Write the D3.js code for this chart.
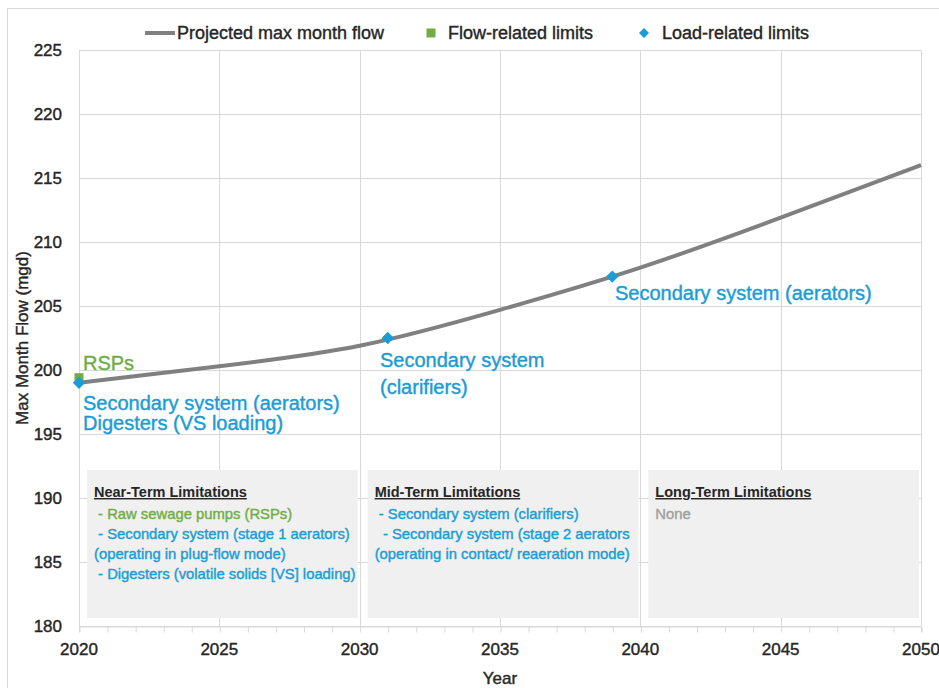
<!DOCTYPE html>
<html>
<head>
<meta charset="utf-8">
<script src="https://cdn.jsdelivr.net/npm/d3@7"></script>
<style>
  body { margin: 0; background: #fff; }
  svg text { font-family: "Liberation Sans", Arial, sans-serif; }
  svg text.heavy { stroke-width: 0.4px; }
</style>
</head>
<body>
<svg width="939" height="688"></svg>
<script>
// projected max month flow
var flowYears = [2020, 2025, 2030, 2035, 2040, 2045, 2050];
var flowValues = [199.0, 200.3, 201.9, 204.7, 208.0, 211.9, 216.0];

// flow-related limits (square markers)
var flowLimitYears = [2020];
var flowLimitValues = [199.4];

// load-related limits (diamond markers)
var loadLimitYears = [2020, 2031, 2039];
var loadLimitValues = [199.0, 202.5, 207.3];

var yTicks = [180, 185, 190, 195, 200, 205, 210, 215, 220, 225];
var xTicks = [2020, 2025, 2030, 2035, 2040, 2045, 2050];

// limitation boxes: [start year, end year]
var termStarts = [2020, 2030, 2040];
var termEnds = [2030, 2040, 2050];
var termTitles = ["Near-Term Limitations", "Mid-Term Limitations", "Long-Term Limitations"];

var blue = "#1b9cd4",
    green = "#70ad47",
    gray = "#808080",
    grid = "#d9d9d9",
    ink = "#262626";

var svg = d3.select("svg");

var x = d3.scaleLinear().domain([2020, 2050]).range([79, 921]);
var y = d3.scaleLinear().domain([180, 225]).range([626, 50]);

// outer chart border
svg.append("rect")
   .attr("x", 7.5).attr("y", 8.5)
   .attr("width", 950).attr("height", 700)
   .attr("fill", "none")
   .attr("stroke", grid);

// gridlines
svg.append("g")
   .selectAll("line")
   .data(yTicks)
   .enter().append("line")
   .attr("x1", x(2020)).attr("x2", x(2050))
   .attr("y1", function(d) { return Math.round(y(d)) + 0.5; })
   .attr("y2", function(d) { return Math.round(y(d)) + 0.5; })
   .attr("stroke", grid);

svg.append("g")
   .selectAll("line")
   .data(xTicks)
   .enter().append("line")
   .attr("x1", function(d) { return Math.round(x(d)) + 0.5; })
   .attr("x2", function(d) { return Math.round(x(d)) + 0.5; })
   .attr("y1", y(225)).attr("y2", y(180))
   .attr("stroke", grid);

// x axis with yearly minor ticks
var xAxis = svg.append("g")
   .attr("transform", "translate(0," + (Math.round(y(180)) + 0.5) + ")")
   .call(d3.axisBottom(x).tickValues(d3.range(2020, 2051)).tickSize(6).tickFormat(""));
xAxis.select(".domain").attr("stroke", grid);
xAxis.selectAll(".tick line").attr("stroke", grid).attr("transform", "translate(0.5,0)");

svg.append("g")
   .selectAll("text")
   .data(xTicks)
   .enter().append("text")
   .attr("class", "heavy")
   .attr("x", function(d) { return x(d); })
   .attr("y", 655)
   .attr("text-anchor", "middle")
   .attr("font-size", 17)
   .attr("fill", ink).attr("stroke", ink)
   .text(function(d) { return d; });

svg.append("g")
   .selectAll("text")
   .data(yTicks)
   .enter().append("text")
   .attr("class", "heavy")
   .attr("x", 62)
   .attr("y", function(d) { return y(d) + 6; })
   .attr("text-anchor", "end")
   .attr("font-size", 17)
   .attr("fill", ink).attr("stroke", ink)
   .text(function(d) { return d; });

svg.append("text")
   .attr("class", "heavy")
   .attr("x", 500).attr("y", 684)
   .attr("text-anchor", "middle")
   .attr("font-size", 17)
   .attr("fill", ink).attr("stroke", ink)
   .text("Year");

svg.append("text")
   .attr("class", "heavy")
   .attr("transform", "translate(28," + y(202.5) + ") rotate(-90)")
   .attr("text-anchor", "middle")
   .attr("font-size", 17)
   .attr("fill", ink).attr("stroke", ink)
   .text("Max Month Flow (mgd)");

// limitation boxes
var boxes = svg.append("g")
   .selectAll("g")
   .data(termStarts)
   .enter().append("g");

boxes.append("rect")
   .attr("x", function(d) { return x(d) + 8; })
   .attr("y", 470)
   .attr("width", function(d, i) { return x(termEnds[i]) - x(d) - 10; })
   .attr("height", 148)
   .attr("fill", "#f0f0f0");

boxes.append("text")
   .attr("x", function(d) { return x(d) + 15; })
   .attr("y", 497)
   .attr("font-size", 14.5)
   .attr("font-weight", "bold")
   .attr("fill", ink)
   .attr("text-decoration", "underline")
   .text(function(d, i) { return termTitles[i]; });

var boxLines = [
  [[" - Raw sewage pumps (RSPs)", green],
   [" - Secondary system (stage 1 aerators)", blue],
   ["(operating in plug-flow mode)", blue],
   [" - Digesters (volatile solids [VS] loading)", blue]],
  [[" - Secondary system (clarifiers)", blue],
   ["  - Secondary system (stage 2 aerators", blue],
   ["(operating in contact/ reaeration mode)", blue]],
  [["None", "#a0a0a0"]]
];

boxes.each(function(d, i) {
  d3.select(this).selectAll("text.line")
    .data(boxLines[i])
    .enter().append("text")
    .attr("class", "line heavy")
    .attr("x", x(d) + 15)
    .attr("y", function(l, j) { return 519 + j * 20; })
    .attr("font-size", 14.8)
    .attr("fill", function(l) { return l[1]; })
    .attr("stroke", function(l) { return l[1]; })
    .style("white-space", "pre")
    .text(function(l) { return l[0]; });
});

// projected flow line
var line = d3.line()
   .x(function(d) { return x(d[0]); })
   .y(function(d) { return y(d[1]); })
   .curve(d3.curveNatural);

svg.append("path")
   .datum(d3.zip(flowYears, flowValues))
   .attr("d", line)
   .attr("fill", "none")
   .attr("stroke", gray)
   .attr("stroke-width", 4);

// markers
svg.append("g")
   .selectAll("path")
   .data(d3.zip(flowLimitYears, flowLimitValues))
   .enter().append("path")
   .attr("d", d3.symbol(d3.symbolSquare, 81))
   .attr("transform", function(d) { return "translate(" + x(d[0]) + "," + y(d[1]) + ")"; })
   .attr("fill", green);

svg.append("g")
   .selectAll("path")
   .data(d3.zip(loadLimitYears, loadLimitValues))
   .enter().append("path")
   .attr("d", d3.symbol(d3.symbolSquare, 76))
   .attr("transform", function(d) { return "translate(" + x(d[0]) + "," + y(d[1]) + ") rotate(45)"; })
   .attr("fill", blue);

// point annotations
var notes = [
  ["RSPs", green, 83, 370],
  ["Secondary system (aerators)", blue, 83, 410],
  ["Digesters (VS loading)", blue, 83, 430],
  ["Secondary system", blue, 380, 367],
  ["(clarifiers)", blue, 380, 394],
  ["Secondary system (aerators)", blue, 615, 300]
];
svg.append("g")
   .selectAll("text")
   .data(notes)
   .enter().append("text")
   .attr("class", "heavy")
   .attr("x", function(d) { return d[2]; })
   .attr("y", function(d) { return d[3]; })
   .attr("font-size", 20)
   .attr("fill", function(d) { return d[1]; })
   .attr("stroke", function(d) { return d[1]; })
   .text(function(d) { return d[0]; });

// legend
var legend = svg.append("g");
legend.append("line")
   .attr("x1", 145).attr("x2", 175)
   .attr("y1", 33).attr("y2", 33)
   .attr("stroke", gray).attr("stroke-width", 4);
legend.append("text")
   .attr("class", "heavy")
   .attr("x", 177).attr("y", 39)
   .attr("font-size", 18).attr("fill", ink).attr("stroke", ink)
   .text("Projected max month flow");
legend.append("path")
   .attr("d", d3.symbol(d3.symbolSquare, 81))
   .attr("transform", "translate(431,33)")
   .attr("fill", green);
legend.append("text")
   .attr("class", "heavy")
   .attr("x", 448).attr("y", 39)
   .attr("font-size", 18).attr("fill", ink).attr("stroke", ink)
   .text("Flow-related limits");
legend.append("path")
   .attr("d", d3.symbol(d3.symbolSquare, 50))
   .attr("transform", "translate(644,33) rotate(45)")
   .attr("fill", blue);
legend.append("text")
   .attr("class", "heavy")
   .attr("x", 662).attr("y", 39)
   .attr("font-size", 18).attr("fill", ink).attr("stroke", ink)
   .text("Load-related limits");
</script>
</body>
</html>
